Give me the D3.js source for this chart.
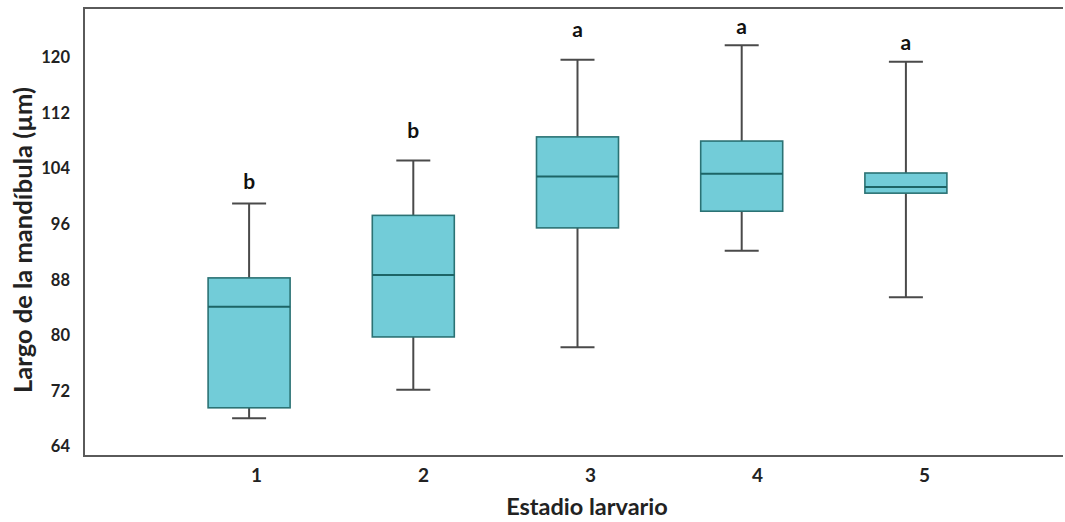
<!DOCTYPE html>
<html><head><meta charset="utf-8">
<script src="https://cdn.jsdelivr.net/npm/d3@7/dist/d3.min.js"></script>
<style>html,body{margin:0;padding:0;background:#fff;}svg{display:block;font-family:Lato,"Open Sans",sans-serif;}</style>
</head><body><svg id="c" width="1065" height="522"></svg>
<script>
const categories = ["1","2","3","4","5"];
const whiskerLow  = [68.0, 72.1, 78.2, 92.1, 85.4];
const q1          = [69.5, 79.7, 95.4, 97.8, 100.4];
const medians     = [84.05, 88.6, 102.8, 103.2, 101.3];
const q3          = [88.2, 97.2, 108.5, 107.9, 103.3];
const whiskerHigh = [98.9, 105.1, 119.6, 121.7, 119.3];
const letters     = ["b","b","a","a","a"];
const letterLevel = [102.05, 109.35, 123.9, 124.4, 122.1];
const yTicks = [64,72,80,88,96,104,112,120];

const svg = d3.select("#c");
const frameL = 84, frameR = 1063, frameT = 8, frameB = 456;
const y = d3.scaleLinear().domain([64,120]).range([446,57]);
const x = d3.scaleBand().domain(categories).range([167, 988]).paddingInner(0).paddingOuter(0);
const xLab = d3.scalePoint().domain(categories).range([256, 924]);
const boxW = 82, capW = 34;

const data = categories.map((c,i)=>({c, lo:whiskerLow[i], q1:q1[i], med:medians[i], q3:q3[i], hi:whiskerHigh[i], letter:letters[i], lv:letterLevel[i]}));

// frame
const axisCol = "#5a5a5a";
svg.append("line").attr("x1",frameL).attr("x2",frameL).attr("y1",frameT).attr("y2",frameB).attr("stroke",axisCol).attr("stroke-width",2);
svg.append("line").attr("x1",frameL-1).attr("x2",frameR).attr("y1",frameT).attr("y2",frameT).attr("stroke",axisCol).attr("stroke-width",2);
svg.append("line").attr("x1",frameL-1).attr("x2",frameR).attr("y1",frameB).attr("y2",frameB).attr("stroke",axisCol).attr("stroke-width",2);

// y tick labels
const yAxis = d3.axisLeft(y).tickValues(yTicks).tickSize(0).tickPadding(0);
const gy = svg.append("g").attr("transform","translate(70,0)").call(yAxis);
gy.select(".domain").remove();
gy.selectAll("text").attr("font-family","Lato, sans-serif").attr("font-weight","bold").attr("font-size",16.5).attr("fill","#222").attr("dy","0.35em");

// x tick labels
const xAxis = d3.axisBottom(xLab).tickSize(0).tickPadding(0);
const gx = svg.append("g").attr("transform","translate(0,468)").call(xAxis);
gx.select(".domain").remove();
gx.selectAll("text").attr("font-family","Lato, sans-serif").attr("font-weight","bold").attr("font-size",19).attr("fill","#222").attr("dy","0.71em");

// axis titles
svg.append("text").attr("x",587).attr("y",507).attr("dy","0.35em").attr("text-anchor","middle")
  .attr("font-weight","bold").attr("font-size",23.5).attr("fill","#222").text("Estadio larvario");
svg.append("text").attr("transform","translate(23,240) rotate(-90)").attr("dy","0.35em").attr("text-anchor","middle")
  .attr("font-weight","bold").attr("font-size",25.5).attr("fill","#222").text("Largo de la mandíbula (µm)");

// boxes
const g = svg.selectAll("g.box").data(data).join("g").attr("class","box")
  .attr("transform", d=>`translate(${x(d.c)+x.bandwidth()/2},0)`);
const wCol = "#4a4a4a";
g.append("line").attr("x1",0).attr("x2",0).attr("y1",d=>y(d.hi)).attr("y2",d=>y(d.q3)).attr("stroke",wCol).attr("stroke-width",2);
g.append("line").attr("x1",0).attr("x2",0).attr("y1",d=>y(d.q1)).attr("y2",d=>y(d.lo)).attr("stroke",wCol).attr("stroke-width",2);
g.append("line").attr("x1",-capW/2).attr("x2",capW/2).attr("y1",d=>y(d.hi)).attr("y2",d=>y(d.hi)).attr("stroke",wCol).attr("stroke-width",2);
g.append("line").attr("x1",-capW/2).attr("x2",capW/2).attr("y1",d=>y(d.lo)).attr("y2",d=>y(d.lo)).attr("stroke",wCol).attr("stroke-width",2);
g.append("rect").attr("x",-boxW/2).attr("width",boxW).attr("y",d=>y(d.q3)).attr("height",d=>y(d.q1)-y(d.q3))
  .attr("fill","#72ccd8").attr("stroke","#2b7274").attr("stroke-width",1.6);
g.append("line").attr("x1",-boxW/2).attr("x2",boxW/2).attr("y1",d=>y(d.med)).attr("y2",d=>y(d.med)).attr("stroke","#1d6466").attr("stroke-width",2);
g.append("text").attr("x",0).attr("y",d=>y(d.lv)).attr("dy","0.35em").attr("text-anchor","middle")
  .attr("font-weight","bold").attr("font-size",21).attr("fill","#111").text(d=>d.letter);
</script></body></html>
